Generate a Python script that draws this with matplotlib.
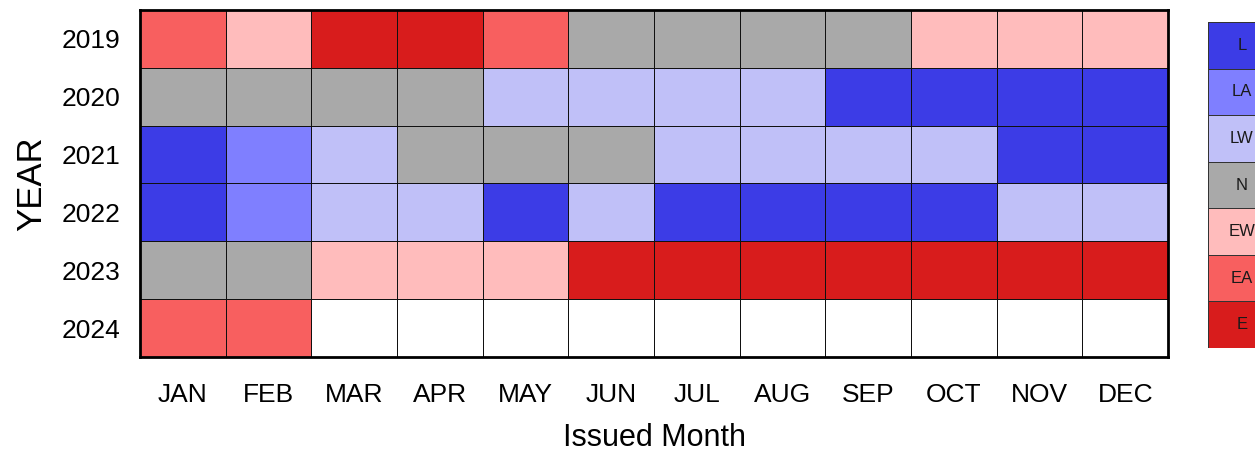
import numpy as np
import matplotlib.pyplot as plt
from matplotlib.colors import ListedColormap

plt.rcParams['font.family'] = ['Liberation Sans', 'DejaVu Sans']

categories = ['L', 'LA', 'LW', 'N', 'EW', 'EA', 'E']
cat_colors = ['#3c3ce6', '#7f7fff', '#c0c0f8', '#a9a9a9', '#ffbcbc', '#f85f5f', '#d81c1c']

years = ['2019', '2020', '2021', '2022', '2023', '2024']
months = ['JAN', 'FEB', 'MAR', 'APR', 'MAY', 'JUN', 'JUL', 'AUG', 'SEP', 'OCT', 'NOV', 'DEC']

y2019 = ['EA', 'EW', 'E', 'E', 'EA', 'N', 'N', 'N', 'N', 'EW', 'EW', 'EW']
y2020 = ['N', 'N', 'N', 'N', 'LW', 'LW', 'LW', 'LW', 'L', 'L', 'L', 'L']
y2021 = ['L', 'LA', 'LW', 'N', 'N', 'N', 'LW', 'LW', 'LW', 'LW', 'L', 'L']
y2022 = ['L', 'LA', 'LW', 'LW', 'L', 'LW', 'L', 'L', 'L', 'L', 'LW', 'LW']
y2023 = ['N', 'N', 'EW', 'EW', 'EW', 'E', 'E', 'E', 'E', 'E', 'E', 'E']
y2024 = ['EA', 'EA', None, None, None, None, None, None, None, None, None, None]

rows = [y2019, y2020, y2021, y2022, y2023, y2024]
grid = np.array([[categories.index(v) if v else np.nan for v in r] for r in rows], dtype=float)

cmap = ListedColormap(cat_colors)
cmap.set_bad('white')

fig = plt.figure(figsize=(12.55, 4.54), dpi=100)
ax = fig.add_axes([0.1116, 0.2137, 0.8191, 0.7643])
ax.pcolormesh(np.ma.masked_invalid(grid), cmap=cmap, vmin=-0.5, vmax=6.5,
              edgecolors='#111111', linewidth=0.7)
ax.set_xlim(0, 12)
ax.set_ylim(6, 0)
ax.set_xticks(np.arange(12) + 0.5)
ax.set_xticklabels(months, fontsize=19)
ax.set_yticks(np.arange(6) + 0.5)
ax.set_yticklabels(years, fontsize=19)
ax.tick_params(axis='x', length=0, pad=19)
ax.tick_params(axis='y', length=0, pad=14)
for s in ax.spines.values():
    s.set_linewidth(2)
ax.set_xlabel('Issued Month', fontsize=22, labelpad=11)
ax.set_ylabel('YEAR', fontsize=25, labelpad=10)

# legend strip on the right
lax = fig.add_axes([0.9626, 0.2335, 0.06, 0.718])
lax.pcolormesh(np.arange(7).reshape(-1, 1), cmap=ListedColormap(cat_colors),
               vmin=-0.5, vmax=6.5, edgecolors='#333333', linewidth=0.5)
lax.set_xlim(0, 1)
lax.set_ylim(7, 0)
for i, c in enumerate(categories):
    lax.text(0.45, i + 0.5, c, ha='center', va='center', fontsize=12, color='#1a1a1a')
lax.set_xticks([])
lax.set_yticks([])
for s in lax.spines.values():
    s.set_visible(False)

fig.savefig('out.png', dpi=100)
